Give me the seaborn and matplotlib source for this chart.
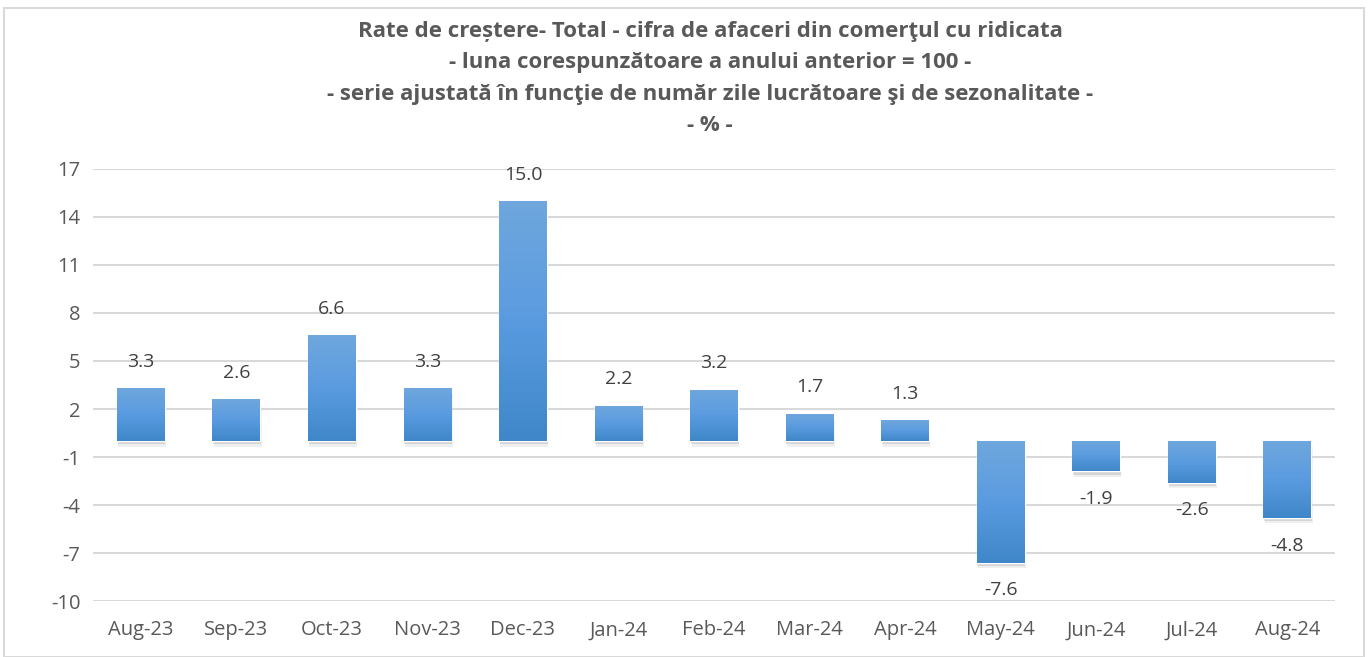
import numpy as np
import pandas as pd
import matplotlib
matplotlib.use('Agg')
import matplotlib.pyplot as plt
import matplotlib.patheffects as pe
from matplotlib.colors import LinearSegmentedColormap
from matplotlib.patches import Rectangle
import seaborn as sns

months = ['Aug-23', 'Sep-23', 'Oct-23', 'Nov-23', 'Dec-23', 'Jan-24', 'Feb-24',
          'Mar-24', 'Apr-24', 'May-24', 'Jun-24', 'Jul-24', 'Aug-24']
rates = [3.3, 2.6, 6.6, 3.3, 15.0, 2.2, 3.2, 1.7, 1.3, -7.6, -1.9, -2.6, -4.8]
yticks = [17, 14, 11, 8, 5, 2, -1, -4, -7, -10]

title = ('Rate de creștere- Total - cifra de afaceri din comerţul cu ridicata\n'
         '- luna corespunzătoare a anului anterior = 100 -\n'
         '- serie ajustată în funcţie de număr zile lucrătoare şi de sezonalitate -\n'
         '- % -')

sns.set_theme(style='white')
plt.rcParams['font.family'] = ['Open Sans', 'DejaVu Sans']
plt.rcParams['axes.unicode_minus'] = False
grey = '#595959'

df = pd.DataFrame({'luna': months, 'rata': rates})

fig = plt.figure(figsize=(13.68, 6.57), dpi=100)
ax = fig.add_axes([0.068, 0.0852, 0.9079, 0.6576])

sns.barplot(data=df, x='luna', y='rata', color='#5b9bd5', width=0.5,
            saturation=1, ax=ax, zorder=3)

ax.set_ylim(-10, 17)
ax.set_yticks(yticks)
ax.set_xlim(-0.5, len(months) - 0.5)
ax.grid(axis='y', color='#d9d9d9', linewidth=1.5, zorder=0)
for s in ax.spines.values():
    s.set_visible(False)
ax.set_xlabel('')
ax.set_ylabel('')
ax.tick_params(axis='both', colors=grey, labelsize=14.5, length=0)
ax.tick_params(axis='y', pad=9)
ax.tick_params(axis='x', pad=14)

# gradient fill + soft shadow
cmap = LinearSegmentedColormap.from_list('bl', ['#6fa7dd', '#5a9be0', '#3f87c9'])
grad = np.linspace(0, 1, 256).reshape(-1, 1)
for p in ax.patches:
    x0, w = p.get_x(), p.get_width()
    y0, h = p.get_y(), p.get_height()
    lo, hi = min(y0, y0 + h), max(y0, y0 + h)
    p.set_path_effects([
        pe.SimplePatchShadow(offset=(1, -4), shadow_rgbFace='#9a9a9a', alpha=0.15),
        pe.SimplePatchShadow(offset=(0.5, -2.5), shadow_rgbFace='#8a8a8a', alpha=0.25),
        pe.Normal()])
    im = ax.imshow(grad, cmap=cmap, aspect='auto', extent=(x0, x0 + w, lo, hi),
                   origin='upper', zorder=4)
    im.set_clip_path(p)

for i, v in enumerate(rates):
    off = 19 if v >= 0 else -20
    ax.annotate(f'{v:.1f}', (i, v), xytext=(0, off), textcoords='offset points',
                ha='center', va='center', fontsize=14, color='#404040')

fig.text(0.519, 0.968, title, ha='center', va='top', fontsize=16,
         fontweight='bold', color=grey, linespacing=1.65)

fig.patches.append(Rectangle((0.003, 0.0), 0.994, 0.988, transform=fig.transFigure,
                             fill=False, edgecolor='#d9d9d9', linewidth=1.5))

fig.savefig('out.png', dpi=100)
